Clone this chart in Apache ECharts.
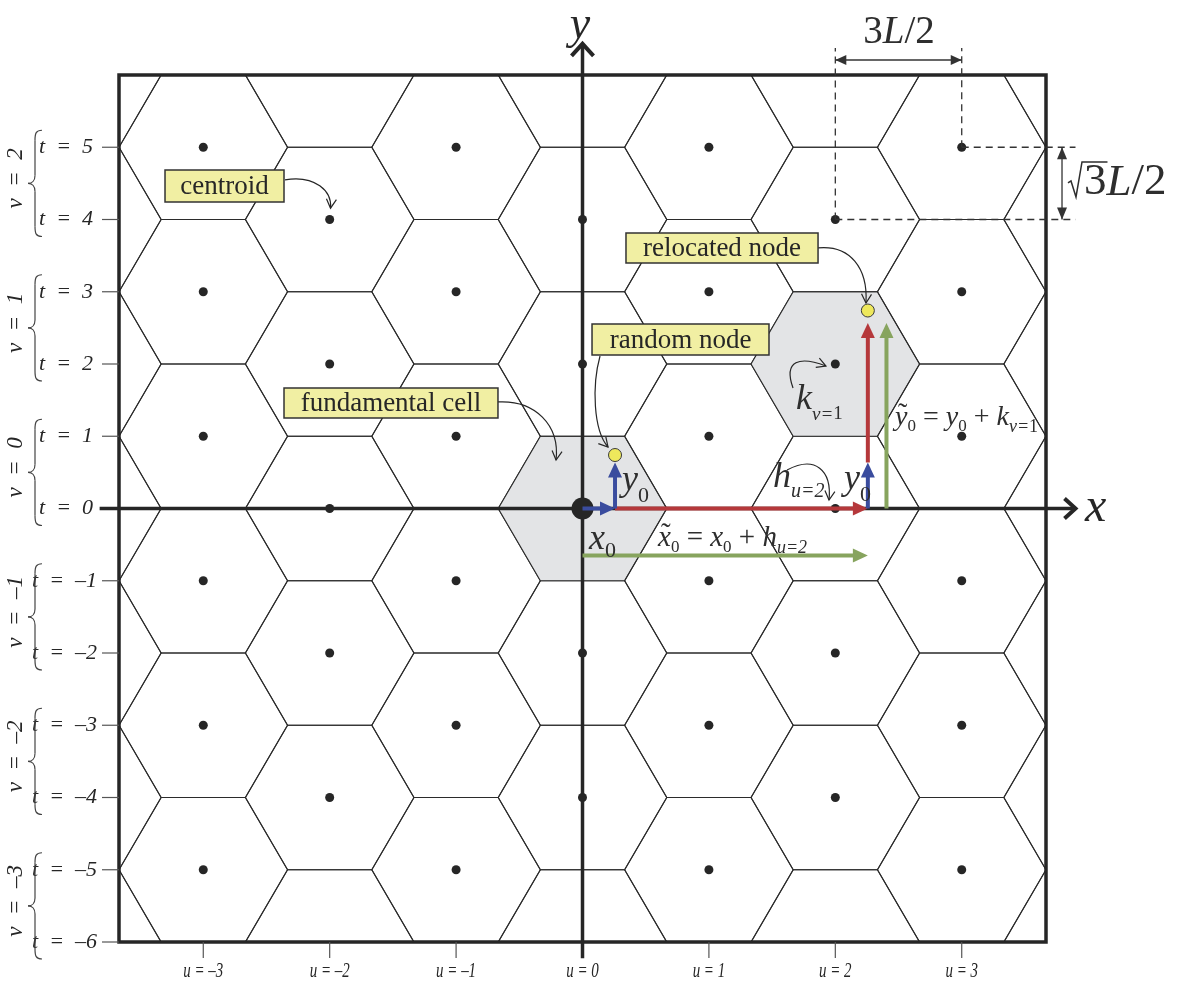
<!DOCTYPE html>
<html><head><meta charset="utf-8">
<script src="https://cdn.jsdelivr.net/npm/echarts@6/dist/echarts.min.js"></script>
<style>html,body{margin:0;padding:0;background:#fff}#c{width:1178px;height:982px}</style>
</head><body><div id="c"></div>
<script>
// ---------- data (lattice indices, L = 1) ----------
const uTicks = [-3, -2, -1, 0, 1, 2, 3];
const tTicks = [5, 4, 3, 2, 1, 0, -1, -2, -3, -4, -5, -6];
const vGroups = [2, 1, 0, -1, -2, -3];
const cellU = [-4, -3, -2, -1, 0, 1, 2, 3, 4];
const cellT = [-7, -6, -5, -4, -3, -2, -1, 0, 1, 2, 3, 4, 5, 6, 7];
const grayCells = ['0,0', '2,2'];
const dotU = [-3, -2, -1, 0, 1, 2, 3];
const dotT = [-5, -4, -3, -2, -1, 0, 1, 2, 3, 4, 5];
const randomNode = [0.386, 0.641];
const hIndex = 2;   // h_{u=2}
const kIndex = 1;   // k_{v=1}

const SQ3 = Math.sqrt(3);
const SERIF = '"Liberation Serif","Times New Roman",serif';
const INK = '#262626';
const BLUE = '#3a4c9e', RED = '#b5383b', GREEN = '#87a45e';
const ES = '\u2002';

const cells = [];
cellU.forEach(u => cellT.forEach(t => {
  if (Math.abs(u + t) % 2 === 0) cells.push([1.5 * u, SQ3 / 2 * t, grayCells.includes(u + ',' + t) ? 1 : 0]);
}));
const centroids = [];
dotU.forEach(u => dotT.forEach(t => {
  if (Math.abs(u + t) % 2 === 0 && !(u === 0 && t === 0)) centroids.push([1.5 * u, SQ3 / 2 * t]);
}));
const relocated = [randomNode[0] + 1.5 * hIndex, randomNode[1] + SQ3 * kIndex];

// ---------- helpers ----------
const mctx = document.createElement('canvas').getContext('2d');
function tw(t, s, it) { mctx.font = (it ? 'italic ' : '') + s + 'px ' + SERIF; return mctx.measureText(t).width; }
function fmt(n) { return n < 0 ? '\u2013' + (-n) : String(n); }
function seg(a, b, color, lw, dash) {
  return { type: 'line', shape: { x1: a[0], y1: a[1], x2: b[0], y2: b[1] }, style: { stroke: color, lineWidth: lw, lineDash: dash || null, fill: null } };
}
function head(tip, from, len, hw, color) {
  const dx = tip[0] - from[0], dy = tip[1] - from[1], d = Math.hypot(dx, dy), ux = dx / d, uy = dy / d;
  const bx = tip[0] - ux * len, by = tip[1] - uy * len;
  return { type: 'polygon', shape: { points: [tip, [bx - uy * hw, by + ux * hw], [bx + uy * hw, by - ux * hw]] }, style: { fill: color } };
}
function openHead(tip, from, len, hw, color, lw) {
  const dx = tip[0] - from[0], dy = tip[1] - from[1], d = Math.hypot(dx, dy), ux = dx / d, uy = dy / d;
  const bx = tip[0] - ux * len, by = tip[1] - uy * len;
  return { type: 'polyline', shape: { points: [[bx - uy * hw, by + ux * hw], tip, [bx + uy * hw, by - ux * hw]] }, style: { stroke: color, lineWidth: lw, fill: null } };
}
function arrow(a, b, color, lw, len, hw) {
  const dx = b[0] - a[0], dy = b[1] - a[1], d = Math.hypot(dx, dy);
  const e = [b[0] - dx / d * len * 0.7, b[1] - dy / d * len * 0.7];
  return [seg(a, e, color, lw), head(b, a, len, hw, color)];
}
function curve(s, c1, c2, e) {
  return [{ type: 'bezierCurve', shape: { x1: s[0], y1: s[1], x2: e[0], y2: e[1], cpx1: c1[0], cpy1: c1[1], cpx2: c2[0], cpy2: c2[1] }, style: { stroke: INK, lineWidth: 1.2, fill: null } },
    openHead(e, c2, 9, 5, INK, 1.2)];
}
function txt(x, y, s, font, align, extra) {
  return Object.assign({ type: 'text', x: x, y: y, style: { text: s, font: font, fill: INK, align: align || 'left', verticalAlign: 'middle' } }, extra || {});
}
function mrow(x, base, parts, align) {
  let w = 0; const ws = parts.map(pt => { const v = tw(pt.t, pt.s, pt.it); w += v; return v; });
  let cx = align === 'center' ? x - w / 2 : x;
  const out = [];
  parts.forEach((pt, i) => {
    const font = (pt.it ? 'italic ' : '') + pt.s + 'px ' + SERIF;
    const by = base + (pt.dy || 0);
    out.push({ type: 'text', x: cx, y: by - 0.34 * pt.s, style: { text: pt.t, font: font, fill: '#2e2e2e', align: 'left', verticalAlign: 'middle' } });
    if (pt.tilde) out.push({ type: 'text', x: cx + ws[i] / 2 + pt.s * 0.05, y: by - 0.34 * pt.s - pt.s * 0.1, style: { text: '\u02dc', font: pt.s + 'px ' + SERIF, fill: '#2e2e2e', align: 'center', verticalAlign: 'middle' } });
    cx += ws[i];
  });
  return out;
}

// ---------- render functions ----------
function hexItem(params, api) {
  const cx = api.value(0), cy = api.value(1), g = api.value(2);
  const pts = [];
  for (let k = 0; k < 6; k++) { const a = Math.PI / 3 * k; pts.push(api.coord([cx + Math.cos(a), cy + Math.sin(a)])); }
  return { type: 'polygon', shape: { points: pts }, style: { fill: g ? '#e3e4e6' : 'none', stroke: '#2b2b2b', lineWidth: 1.1 } };
}

function axesItem(params, api) {
  const p = (X, Y) => api.coord([X, Y]);
  const ch = [];
  const tl = p(-5.5, 3 * SQ3), br = p(5.5, -3 * SQ3);
  const gl = tl[0], gb = br[1];
  ch.push({ type: 'rect', shape: { x: tl[0], y: tl[1], width: br[0] - tl[0], height: br[1] - tl[1] }, style: { fill: 'none', stroke: INK, lineWidth: 3.5 } });
  // left ticks & t labels
  tTicks.forEach(t => {
    const q = p(-5.5, SQ3 / 2 * t);
    ch.push(seg([q[0] - 17, q[1]], q, '#555', 1.2));
    ch.push(txt(t < 0 ? q[0] - 22 : q[0] - 26, q[1], 't' + ES + '=' + ES + fmt(t), 'italic 22px ' + SERIF, 'right'));
  });
  // braces & v labels
  vGroups.forEach(v => {
    const yT = p(0, SQ3 / 2 * (2 * v + 1))[1] - 17, yB = p(0, SQ3 / 2 * (2 * v))[1] + 17, yM = (yT + yB) / 2;
    const ex = gl - 77, sx = gl - 84, tx = gl - 91;
    const st = { stroke: '#444', lineWidth: 1.2, fill: null };
    const bz = (a, c1, c2, b) => ({ type: 'bezierCurve', shape: { x1: a[0], y1: a[1], x2: b[0], y2: b[1], cpx1: c1[0], cpy1: c1[1], cpx2: c2[0], cpy2: c2[1] }, style: st });
    ch.push(bz([ex, yT], [sx + 1, yT], [sx, yT + 3], [sx, yT + 10]));
    ch.push(seg([sx, yT + 10], [sx, yM - 8], '#444', 1.2));
    ch.push(bz([sx, yM - 8], [sx, yM - 3], [sx - 3, yM], [tx, yM]));
    ch.push(bz([tx, yM], [sx - 3, yM], [sx, yM + 3], [sx, yM + 8]));
    ch.push(seg([sx, yM + 8], [sx, yB - 10], '#444', 1.2));
    ch.push(bz([sx, yB - 10], [sx, yB - 3], [sx + 1, yB], [ex, yB]));
    ch.push(txt(16, yM - 5, 'v' + ES + '=' + ES + fmt(v), 'italic 23px ' + SERIF, 'center', { rotation: Math.PI / 2 }));
  });
  // bottom ticks & u labels
  uTicks.forEach(u => {
    const q = p(1.5 * u, -3 * SQ3);
    ch.push(seg(q, [q[0], q[1] + 16], '#555', 1.2));
    ch.push(txt(q[0], gb + 29, 'u = ' + fmt(u), 'italic 22px ' + SERIF, 'center', { scaleX: 0.68 }));
  });
  // x axis
  const xa = p(-5.73, 0), xb = p(5.85, 0);
  ch.push(seg(xa, xb, INK, 3.5));
  ch.push({ type: 'polyline', shape: { points: [[xb[0] - 11, xb[1] - 10], xb, [xb[0] - 11, xb[1] + 10]] }, style: { stroke: INK, lineWidth: 4, fill: null } });
  const xl = p(6.09, 0);
  ch.push(txt(xl[0], xl[1], 'x', 'italic 48px ' + SERIF, 'center'));
  // y axis
  const ya = p(0, -5.39), yb = p(0, 5.57);
  ch.push(seg(ya, yb, INK, 3.5));
  ch.push({ type: 'polyline', shape: { points: [[yb[0] - 11, yb[1] + 12], yb, [yb[0] + 11, yb[1] + 12]] }, style: { stroke: INK, lineWidth: 4, fill: null } });
  const yl = p(-0.03, 5.79);
  ch.push(txt(yl[0], yl[1], 'y', 'italic 46px ' + SERIF, 'center'));
  return { type: 'group', children: ch };
}

function annItem(params, api) {
  const p = (X, Y) => api.coord([X, Y]);
  const ch = [];
  const add = a => { Array.isArray(a) ? a.forEach(e => ch.push(e)) : ch.push(a); };
  const DASH = [7, 5];
  // dimension lines
  add(seg(p(3, SQ3 * 2), p(3, 5.52), '#333', 1.3, DASH));
  add(seg(p(4.5, SQ3 * 2.5), p(4.5, 5.52), '#333', 1.3, DASH));
  add(seg(p(4.5, SQ3 * 2.5), p(5.85, SQ3 * 2.5), '#333', 1.3, DASH));
  add(seg(p(3, SQ3 * 2), p(5.85, SQ3 * 2), '#333', 1.3, DASH));
  const hA = p(3, 5.376), hB = p(4.5, 5.376);
  add(seg(hA, hB, '#333', 1.3)); add(head(hA, hB, 11, 5, '#333')); add(head(hB, hA, 11, 5, '#333'));
  const vA = p(5.69, SQ3 * 2.5), vB = p(5.69, SQ3 * 2);
  add(seg(vA, vB, '#333', 1.3)); add(head(vA, vB, 12, 5, '#333')); add(head(vB, vA, 12, 5, '#333'));
  const d1 = p(3.756, 5.543);
  add(mrow(d1[0], d1[1], [{ t: '3', s: 39 }, { t: 'L', s: 39, it: true }, { t: '/', s: 39 }, { t: '2', s: 39 }], 'center'));
  const d2 = p(5.761, 3.722);
  const w3 = tw('3', 45, false);
  add({ type: 'polyline', shape: { points: [[d2[0], d2[1] - 15], [d2[0] + 3, d2[1] - 17], [d2[0] + 8, d2[1] - 1], [d2[0] + 14, d2[1] - 36], [d2[0] + 16 + w3 + 1, d2[1] - 36]] }, style: { stroke: '#2e2e2e', lineWidth: 1.5, fill: null } });
  add(mrow(d2[0] + 16, d2[1], [{ t: '3', s: 45 }, { t: 'L', s: 45, it: true }, { t: '/', s: 45 }, { t: '2', s: 45 }]));

  // colored arrows
  const r = randomNode, rel = relocated, yTip = r[1] - 0.09;
  add(arrow(p(0, -0.563), p(rel[0], -0.563), GREEN, 4, 15, 7));
  add(arrow(p(3.607, 0), p(3.607, 2.223), GREEN, 4, 15, 7));
  add(arrow(p(r[0], 0), p(rel[0], 0), RED, 4, 15, 7));
  add(arrow(p(rel[0], yTip), p(rel[0], rel[1] - 0.15), RED, 4, 15, 7));
  add(arrow(p(0, 0), p(r[0], 0), BLUE, 4, 15, 7));
  add(arrow(p(r[0], 0), p(r[0], yTip), BLUE, 4, 15, 7));
  add(arrow(p(rel[0], 0), p(rel[0], yTip), BLUE, 4, 15, 7));
  // nodes
  [r, rel].forEach(n => { const q = p(n[0], n[1]); add({ type: 'circle', shape: { cx: q[0], cy: q[1], r: 6.5 }, style: { fill: '#eee85c', stroke: '#3a3a3a', lineWidth: 1 } }); });

  // curved pointers
  add(curve(p(-3.53, 3.94), p(-3.17, 4.00), p(-2.97, 3.80), p(-2.99, 3.60)));
  add(curve(p(-1.003, 1.277), p(-0.564, 1.301), p(-0.267, 1.001), p(-0.314, 0.581)));
  add(curve(p(0.208, 1.828), p(0.113, 1.48), p(0.125, 0.941), p(0.303, 0.737)));
  add(curve(p(2.795, 3.123), p(3.174, 3.159), p(3.388, 2.883), p(3.364, 2.463)));
  add(curve(p(2.498, 1.444), p(2.379, 1.78), p(2.581, 1.828), p(2.889, 1.708)));
  add(curve(p(2.427, 0.461), p(2.759, 0.641), p(2.961, 0.461), p(2.925, 0.102)));

  // callout boxes
  const box = (X1, Y1, X2, Y2, label) => {
    const a = p(X1, Y1), b = p(X2, Y2);
    add({ type: 'rect', shape: { x: a[0], y: a[1], width: b[0] - a[0], height: b[1] - a[1] }, style: { fill: '#f1efa3', stroke: '#333', lineWidth: 1.5 } });
    add(txt((a[0] + b[0]) / 2, (a[1] + b[1]) / 2 + 1, label, '27px ' + SERIF, 'center'));
  };
  box(-4.954, 4.057, -3.542, 3.674, 'centroid');
  box(-3.542, 1.444, -1.003, 1.085, 'fundamental cell');
  box(0.113, 2.211, 2.213, 1.840, 'random node');
  box(0.516, 3.302, 2.795, 2.943, 'relocated node');

  // math labels
  const sub0 = dy => ({ t: '0', s: 22, dy: dy });
  let q;
  q = p(0.469, 0.186); add(mrow(q[0], q[1], [{ t: 'y', s: 36, it: true }, sub0(11)]));
  q = p(0.077, -0.521); add(mrow(q[0], q[1], [{ t: 'x', s: 36, it: true }, sub0(7)]));
  q = p(3.103, 0.198); add(mrow(q[0], q[1], [{ t: 'y', s: 36, it: true }, sub0(11)]));
  q = p(2.26, 0.222); add(mrow(q[0], q[1], [{ t: 'h', s: 36, it: true }, { t: 'u=2', s: 20, it: true, dy: 9 }]));
  q = p(2.534, 1.157); add(mrow(q[0], q[1], [{ t: 'k', s: 36, it: true }, { t: 'v=', s: 19, it: true, dy: 9 }, { t: '1', s: 19, dy: 9 }]));
  q = p(0.896, -0.473);
  add(mrow(q[0], q[1], [{ t: 'x', s: 29, it: true, tilde: true }, { t: '0', s: 17, dy: 5 }, { t: ' = ', s: 29 }, { t: 'x', s: 29, it: true }, { t: '0', s: 17, dy: 5 }, { t: ' + ', s: 29 }, { t: 'h', s: 29, it: true }, { t: 'u=2', s: 18, it: true, dy: 6 }]));
  q = p(3.709, 0.977);
  add(mrow(q[0], q[1], [{ t: 'y', s: 28, it: true, tilde: true }, { t: '0', s: 17, dy: 5 }, { t: ' = ', s: 28 }, { t: 'y', s: 28, it: true }, { t: '0', s: 17, dy: 5 }, { t: ' + ', s: 28 }, { t: 'k', s: 28, it: true }, { t: 'v=', s: 18, it: true, dy: 6 }, { t: '1', s: 18, dy: 6 }]));
  return { type: 'group', children: ch };
}

const chart = echarts.init(document.getElementById('c'), null, { renderer: 'canvas' });
chart.setOption({
  animation: false,
  grid: { left: 119, top: 75, width: 927, height: 867, show: false },
  xAxis: { type: 'value', min: -5.5, max: 5.5, show: false },
  yAxis: { type: 'value', min: -3 * SQ3, max: 3 * SQ3, show: false },
  series: [
    { type: 'custom', z: 1, clip: true, silent: true, data: cells, encode: { x: 0, y: 1 }, renderItem: hexItem },
    { type: 'custom', z: 2, clip: false, silent: true, data: [[0, 0]], encode: { x: 0, y: 1 }, renderItem: axesItem },
    { type: 'scatter', z: 3, silent: true, data: centroids, symbolSize: 9, itemStyle: { color: INK, opacity: 1 } },
    { type: 'scatter', z: 3, silent: true, data: [[0, 0]], symbolSize: 22, itemStyle: { color: INK, opacity: 1 } },
    { type: 'custom', z: 4, clip: false, silent: true, data: [[0, 0]], encode: { x: 0, y: 1 }, renderItem: annItem }
  ]
});
</script></body></html>
